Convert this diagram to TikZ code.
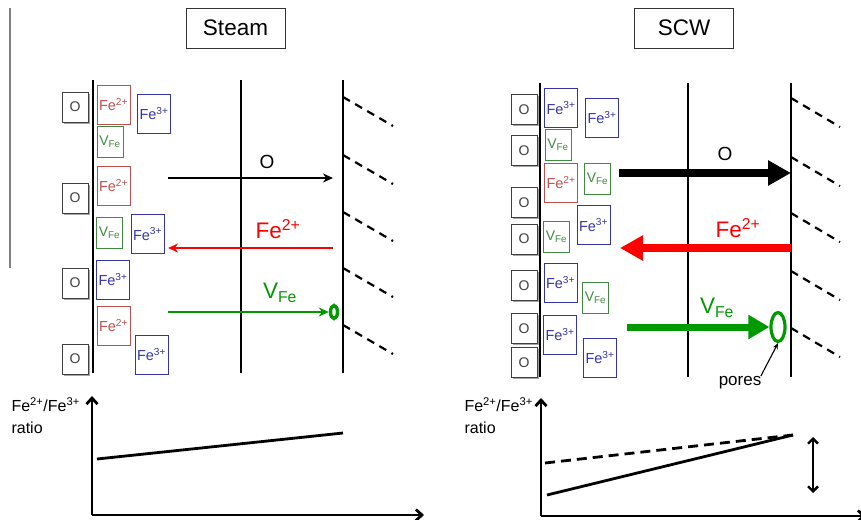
\documentclass[tikz,border=0pt]{standalone}
\usepackage{fontspec}
\setmainfont{Liberation Sans}
\usepackage{tikz}
\usetikzlibrary{shapes.geometric, arrows.meta, positioning, shadows}
\definecolor{ionred}{HTML}{C0504D}
\definecolor{ionblue}{HTML}{3535A8}
\definecolor{iongreen}{HTML}{3F8A3F}
\definecolor{flowgreen}{HTML}{009A00}
\definecolor{oxgrey}{HTML}{404040}

\begin{document}
\begin{tikzpicture}[x=1pt, y=-1pt,
  titlebox/.style={draw=black!80, line width=0.8pt, minimum width=99pt,
    minimum height=40pt, font=\fontsize{22.5}{26}\selectfont},
  obox/.style={draw=oxgrey, line width=0.9pt, fill=white, minimum width=26pt,
    minimum height=30pt, inner sep=0pt, text=oxgrey,
    font=\fontsize{14}{16}\selectfont,
    drop shadow={shadow xshift=1.8pt, shadow yshift=-1.8pt, fill=gray!70, opacity=1}},
  fetwo/.style={draw=ionred, text=ionred, line width=0.8pt, minimum width=33pt,
    minimum height=39pt, inner sep=0pt, font=\fontsize{14.5}{16}\selectfont},
  fethree/.style={fetwo, draw=ionblue, text=ionblue},
  vac/.style={fetwo, draw=iongreen, text=iongreen, minimum width=26pt,
    minimum height=31pt, font=\fontsize{14}{16}\selectfont},
  layer/.style={line width=2.4pt},
  pit/.style={line width=2.2pt, dash pattern=on 8pt off 6pt},
  flowlabel/.style={font=\fontsize{22.5}{25}\selectfont},
  thinflow/.style={line width=2.6pt, -{Stealth[length=10pt,width=9pt]}},
  thickflow/.style={line width=8pt, -{Triangle[length=23pt,width=24pt]}},
  axis/.style={line width=2.8pt, -{Straight Barb[length=6pt,width=11pt]}},
  ratiolabel/.style={anchor=west, align=left, font=\fontsize{16}{22}\selectfont},
  trend/.style={line width=2.8pt}]
  \useasboundingbox (0,0) rectangle (861,519);
  \draw[gray, line width=1.5pt] (10,8) -- (10,268);

  % steam
  \node[titlebox] (steam) at (235.5,28) {Steam};
  \foreach \xl in {93,241,343}
    \draw[layer] (\xl,80) -- (\xl,373);
  \foreach \yd in {97,155,212,268,325}
    \draw[pit] (343,\yd) -- (393,\yd+29);
  \node[obox] (so1) at (75,107) {O};
  \node[obox] (so2) at (75,198) {O};
  \node[obox] (so3) at (75,283) {O};
  \node[obox] (so4) at (75,359) {O};
  \node[fetwo] (sf1) at (113.5,104.5) {Fe\textsuperscript{2+}};
  \node[fetwo] (sf2) at (113.5,185.5) {Fe\textsuperscript{2+}};
  \node[fetwo] (sf3) at (113.5,325.5) {Fe\textsuperscript{2+}};
  \node[fethree] (sg1) at (154,113.5) {Fe\textsuperscript{3+}};
  \node[fethree] (sg2) at (147.5,234) {Fe\textsuperscript{3+}};
  \node[fethree] (sg3) at (113,279.5) {Fe\textsuperscript{3+}};
  \node[fethree] (sg4) at (151.5,354.5) {Fe\textsuperscript{3+}};
  \node[vac] (sv1) at (110,141.5) {V\textsubscript{Fe}};
  \node[vac] (sv2) at (109.5,233) {V\textsubscript{Fe}};
  \coordinate (soa) at (168,178);
  \coordinate (sob) at (333,178);
  \coordinate (sfa) at (333,248);
  \coordinate (sfb) at (168,248);
  \coordinate (sva) at (168,312);
  \node[ellipse, draw=flowgreen, line width=3.4pt, minimum width=7pt,
    minimum height=13pt, inner sep=0pt] (spore) at (334,312) {};
  \draw[thinflow, line width=1.8pt] (soa) -- (sob);
  \draw[thinflow, red] (sfa) -- (sfb);
  \draw[thinflow, flowgreen] (sva) -- (spore.west);
  \node[font=\fontsize{19}{21}\selectfont] (solab) at (267,162) {O};
  \node[flowlabel, red] (sflab) at (278,229) {Fe\textsuperscript{2+}};
  \node[flowlabel, flowgreen] (svlab) at (280,293) {V\textsubscript{Fe}};

  % steam ratio graph
  \coordinate (sorig) at (92,515);
  \draw[axis] (sorig) -- (92,396);
  \draw[axis] (sorig) -- (424,515);
  \node[ratiolabel] (sratio) at (8,416) {Fe\textsuperscript{2+}/Fe\textsuperscript{3+}\\ratio};
  \draw[trend] (97,459) -- (343,433);

  % scw
  \node[titlebox] (scw) at (684,28) {SCW};
  \foreach \xl in {540,688,791}
    \draw[layer] (\xl,83) -- (\xl,377);
  \foreach \yd in {98,157,213,271,328}
    \draw[pit] (791,\yd) -- (840,\yd+29);
  \foreach \yo [count=\i] in {109.5,150.5,202.5,239,285.5,328.5,362.5}
    \node[obox] (wo\i) at (524,\yo) {O};
  \node[fethree] (wg1) at (561,108) {Fe\textsuperscript{3+}};
  \node[fethree] (wg2) at (602,117.5) {Fe\textsuperscript{3+}};
  \node[fethree] (wg3) at (593.5,225) {Fe\textsuperscript{3+}};
  \node[fethree] (wg4) at (560.5,282.5) {Fe\textsuperscript{3+}};
  \node[fethree] (wg5) at (560,334.5) {Fe\textsuperscript{3+}};
  \node[fethree] (wg6) at (600,357.5) {Fe\textsuperscript{3+}};
  \node[fetwo] (wf1) at (561,182.5) {Fe\textsuperscript{2+}};
  \node[vac] (wv1) at (558,145) {V\textsubscript{Fe}};
  \node[vac] (wv2) at (597.5,179) {V\textsubscript{Fe}};
  \node[vac] (wv3) at (556.5,237) {V\textsubscript{Fe}};
  \node[vac] (wv4) at (595.5,298) {V\textsubscript{Fe}};
  \coordinate (woa) at (619,173);
  \coordinate (wob) at (791,173);
  \coordinate (wfa) at (791,248);
  \coordinate (wfb) at (620,248);
  \coordinate (wva) at (627,327);
  \node[ellipse, draw=flowgreen, line width=3.2pt, minimum width=14pt,
    minimum height=29pt, inner sep=0pt] (wpore) at (778,327) {};
  \draw[thickflow] (woa) -- (wob);
  \draw[thickflow, red] (wfa) -- (wfb);
  \draw[thickflow, flowgreen, line width=7pt,
    -{Triangle[length=21pt,width=23pt]}] (wva) -- (wpore.west);
  \node[font=\fontsize{19}{21}\selectfont] (wolab) at (725,154) {O};
  \node[flowlabel, red] (wflab) at (738,228) {Fe\textsuperscript{2+}};
  \node[flowlabel, flowgreen] (wvlab) at (717,308) {V\textsubscript{Fe}};
  \node[font=\fontsize{17}{19}\selectfont] (pores) at (740,383) {pores};
  \draw[line width=1.1pt, -{Stealth[length=6pt,width=5pt]}] (pores.north east) ++(-4,3)
    -- (wpore.south);

  % scw ratio graph
  \coordinate (worig) at (541,516);
  \draw[axis] (worig) -- (541,398);
  \draw[axis] (worig) -- (866,516);
  \node[ratiolabel] (wratio) at (461,416) {Fe\textsuperscript{2+}/Fe\textsuperscript{3+}\\ratio};
  \draw[trend, dashed, dash pattern=on 10pt off 6pt] (545,463) -- (793,435);
  \draw[trend] (547,495) -- (793,435);
  \draw[line width=2.4pt, {Straight Barb[length=5pt,width=10pt]}-{Straight Barb[length=5pt,width=10pt]}]
    (813,437) -- (813,493);
\end{tikzpicture}
\end{document}
